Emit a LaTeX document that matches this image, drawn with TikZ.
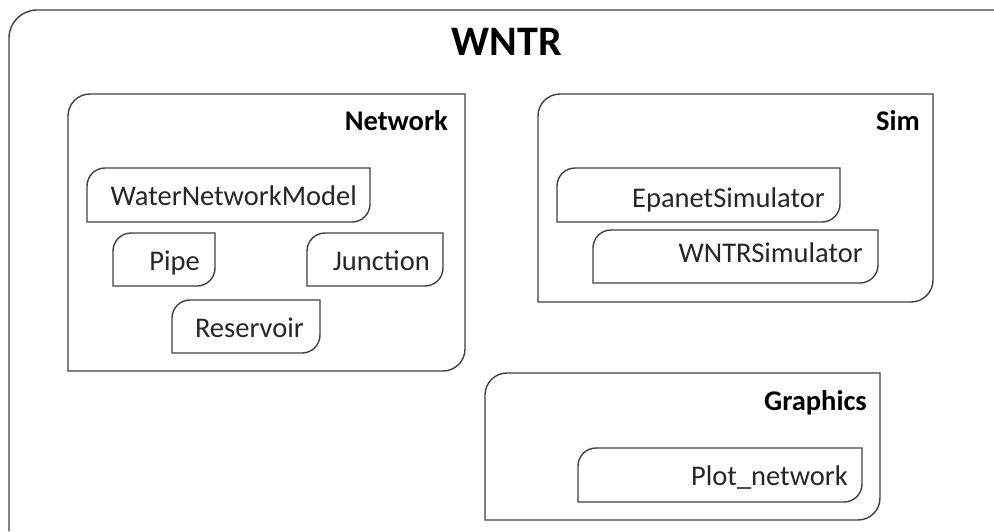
\documentclass[tikz,border=0pt]{standalone}
\usepackage{fontspec}
\setmainfont{Carlito}
\begin{document}
\begin{tikzpicture}[x=1pt,y=1pt,
  frame/.style={draw=black!75, line width=1.4pt},
  box/.style={rectangle, draw=none, inner sep=0pt, outer sep=0pt, anchor=north west},
  lbl/.style={inner sep=0pt, anchor=base east, font=\fontsize{28.5}{34}\selectfont, text=black!85},
  head/.style={lbl, font=\fontsize{28.5}{34}\selectfont\bfseries, text=black},
]
\useasboundingbox (0,0) rectangle (994,-531);

% box outline: rounded top-left and bottom-right corners
\newcommand\cornerframe[2]{%
  \draw[frame] (#1.south west) -- ([yshift=-#2]#1.north west)
    arc[start angle=180, end angle=90, radius=#2] -- (#1.north east)
    -- ([yshift=#2]#1.south east)
    arc[start angle=0, end angle=-90, radius=#2] -- cycle;}

% outer package frame, running off the right and bottom edges
\coordinate (outerbl) at (9,-531);
\coordinate (outertl) at (9,-10);
\coordinate (outertr) at (994,-10);
\draw[frame] (outerbl) -- ([yshift=-28]outertl)
  arc[start angle=180, end angle=90, radius=28] -- (outertr);
\node[head, anchor=base, font=\fontsize{42}{48}\selectfont\bfseries] (wntr) at (507,-55) {WNTR};

% Network module
\node[box, minimum width=397, minimum height=277] (network) at (68,-94) {};
\cornerframe{network}{22}
\node[head] (networklbl) at (448,-130) {Network};

\node[box, minimum width=283, minimum height=54] (wnm) at (87,-168) {};
\cornerframe{wnm}{18}
\node[lbl] (wnmlbl) at (357,-205) {WaterNetworkModel};

\node[box, minimum width=102, minimum height=53] (pipe) at (113,-233) {};
\cornerframe{pipe}{18}
\node[lbl] (pipelbl) at (200,-270) {Pipe};

\node[box, minimum width=136, minimum height=53] (junction) at (307,-233) {};
\cornerframe{junction}{18}
\node[lbl] (junctionlbl) at (430,-270) {Junction};

\node[box, minimum width=148, minimum height=53] (reservoir) at (172,-300) {};
\cornerframe{reservoir}{18}
\node[lbl] (reservoirlbl) at (304,-337) {Reservoir};

% Sim module
\node[box, minimum width=395, minimum height=208] (sim) at (538,-94) {};
\cornerframe{sim}{22}
\node[head] (simlbl) at (920,-130) {Sim};

\node[box, minimum width=283, minimum height=54] (epanet) at (557,-168) {};
\cornerframe{epanet}{18}
\node[lbl] (epanetlbl) at (825,-207) {EpanetSimulator};

\node[box, minimum width=285, minimum height=53] (wntrsim) at (593,-230) {};
\cornerframe{wntrsim}{18}
\node[lbl] (wntrsimlbl) at (863,-262) {WNTRSimulator};

% Graphics module
\node[box, minimum width=395, minimum height=147] (graphics) at (485,-373) {};
\cornerframe{graphics}{22}
\node[head] (graphicslbl) at (867,-410) {Graphics};

\node[box, minimum width=284, minimum height=54] (plotnet) at (578,-448) {};
\cornerframe{plotnet}{18}
\node[lbl] (plotnetlbl) at (848,-485) {Plot\_network};
\end{tikzpicture}
\end{document}
